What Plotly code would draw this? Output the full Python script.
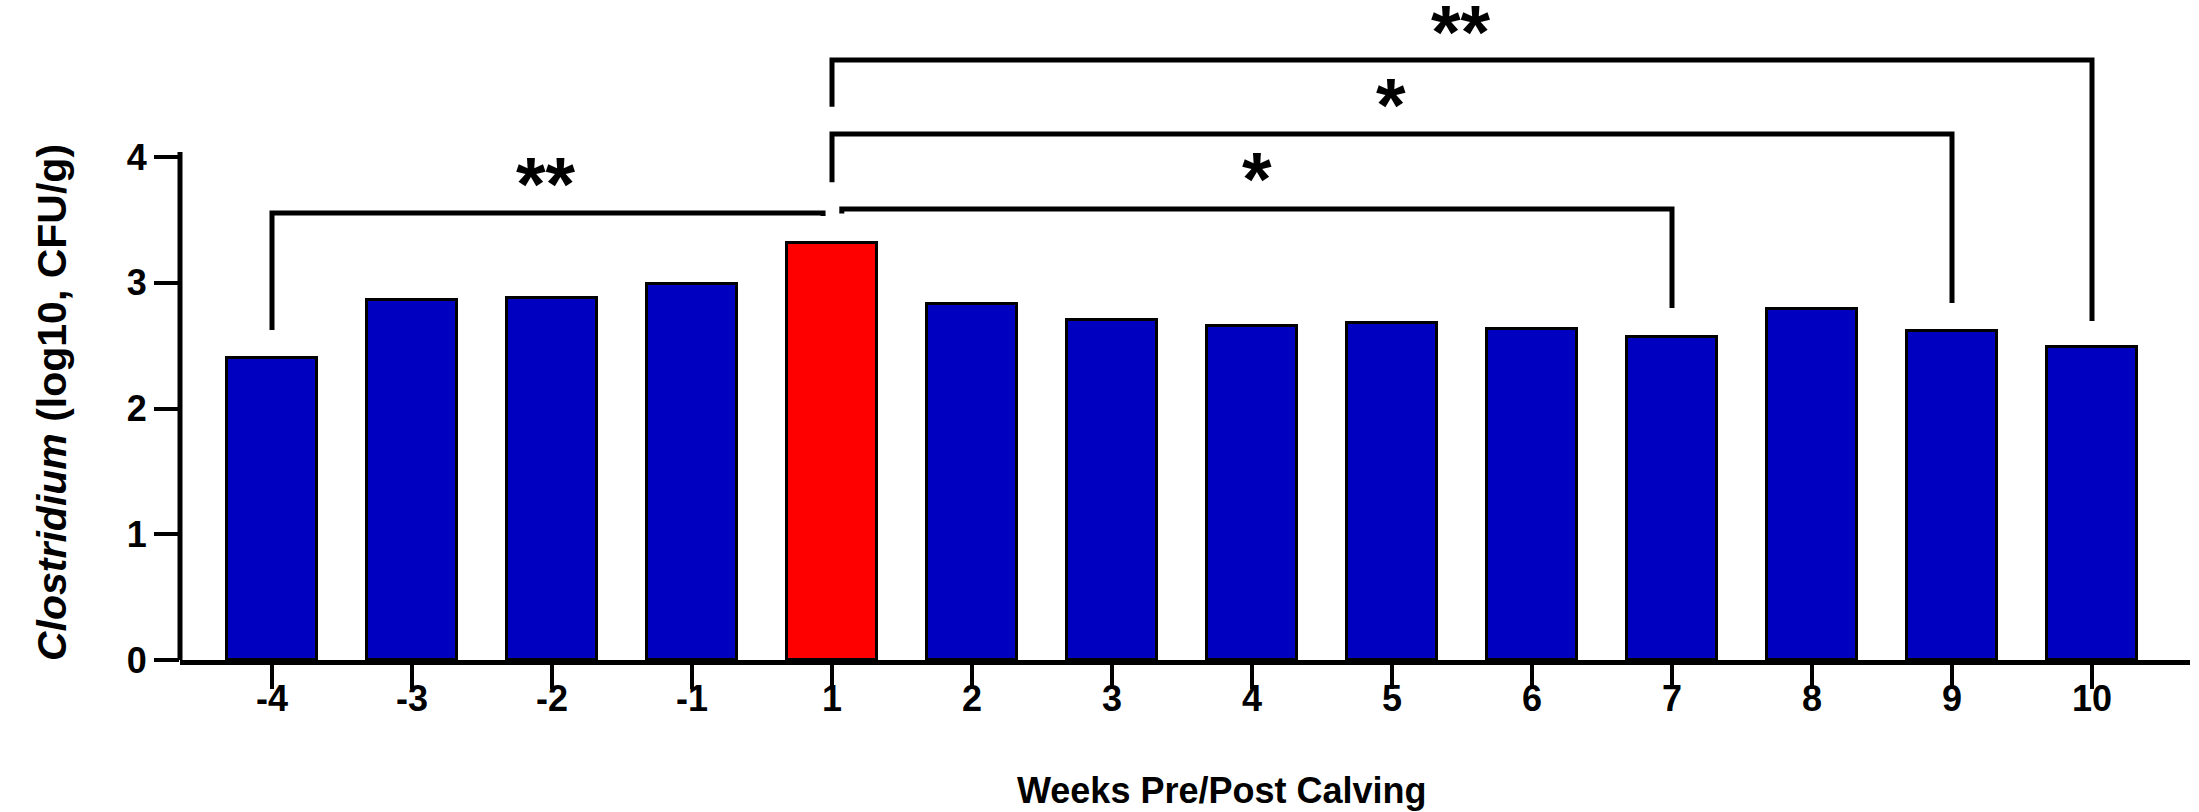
import plotly.graph_objects as go

# Weekly Clostridium counts around calving
weeks = ["-4", "-3", "-2", "-1", "1", "2", "3", "4", "5", "6", "7", "8", "9", "10"]
clostridium = [2.40, 2.86, 2.88, 2.99, 3.32, 2.83, 2.70, 2.66, 2.68, 2.63, 2.57, 2.79, 2.62, 2.49]
highlight_week = "1"

# pairwise comparisons against week 1 and their significance marks
comparisons = [("-4", "1", "**"), ("1", "7", "*"), ("1", "9", "*"), ("1", "10", "**")]

BLUE = "#0000C0"
RED = "#FF0000"
FONT = "Liberation Sans, Arial, sans-serif"

W, H = 2199, 812
ML, MR, MT, MB = 180, 9, 20, 152
PX_PER_UNIT = 125.75          # vertical pixels per log10 unit
PX_PER_CAT = 140.0            # horizontal pixels per week slot
FIRST_CENTER = 272            # pixel x of first week slot

plot_w = W - ML - MR
plot_h = H - MT - MB
y_max = plot_h / PX_PER_UNIT
x_lo = (ML - FIRST_CENTER) / PX_PER_CAT
x_hi = x_lo + plot_w / PX_PER_CAT

idx = {w: i for i, w in enumerate(weeks)}
xs = list(range(len(weeks)))
colors = [RED if w == highlight_week else BLUE for w in weeks]

fig = go.Figure()
fig.add_trace(go.Bar(
    x=xs, y=clostridium, width=0.64,
    marker=dict(color=colors, line=dict(color="black", width=3)),
    hoverinfo="skip", showlegend=False,
))

# bracket geometry: horizontal level, leg bottoms and end offsets (data units)
bracket_style = {
    ("-4", "1"): dict(level=3.555, left_bottom=2.624, right_bottom=3.53, dx0=0.0, dx1=-0.064),
    ("1", "7"): dict(level=3.586, left_bottom=3.55, right_bottom=2.80, dx0=0.07, dx1=0.0),
    ("1", "9"): dict(level=4.183, left_bottom=3.80, right_bottom=2.839, dx0=0.0, dx1=0.0),
    ("1", "10"): dict(level=4.771, left_bottom=4.40, right_bottom=2.696, dx0=0.0, dx1=0.0),
}
# mark positions (x in week slots, y in data units of the glyph centre)
mark_pos = {
    ("-4", "1"): (1.957, 3.857),
    ("1", "7"): (7.036, 3.897),
    ("1", "9"): (7.99, 4.493),
    ("1", "10"): (8.49, 5.066),
}

shapes = []
annotations = []
for a, b, label in comparisons:
    st = bracket_style[(a, b)]
    x0 = idx[a] + st["dx0"]
    x1 = idx[b] + st["dx1"]
    path = (f"M {x0},{st['left_bottom']} L {x0},{st['level']} "
            f"L {x1},{st['level']} L {x1},{st['right_bottom']}")
    shapes.append(dict(type="path", xref="x", yref="y", path=path,
                       line=dict(color="black", width=5)))
    mx, my = mark_pos[(a, b)]
    annotations.append(dict(x=mx, y=my, xref="x", yref="y", text=label,
                            showarrow=False, xanchor="center", yanchor="middle", yshift=-9,
                            font=dict(family=FONT, size=76, color="black", weight="bold")))

# left axis line stops just above the top tick
shapes.append(dict(type="line", xref="paper", yref="paper",
                   x0=0, x1=0, y0=0, y1=4.04 / y_max,
                   line=dict(color="black", width=5)))


def px_to_paper_x(px):
    return (px - ML) / plot_w


def px_to_paper_y(py):
    return (H - MB - py) / plot_h


annotations.append(dict(
    x=px_to_paper_x(1222), y=px_to_paper_y(790), xref="paper", yref="paper",
    xanchor="center", yanchor="middle",
    text="Weeks Pre/Post Calving", showarrow=False,
    font=dict(family=FONT, size=36, color="black", weight="bold")))
annotations.append(dict(
    x=px_to_paper_x(52), y=px_to_paper_y(403), xref="paper", yref="paper",
    xanchor="center", yanchor="middle",
    text="<i>Clostridium</i> (log10, CFU/g)", showarrow=False, textangle=-90,
    font=dict(family=FONT, size=41, color="black", weight="bold")))

fig.update_layout(
    width=W, height=H,
    margin=dict(l=ML, r=MR, t=MT, b=MB, pad=0),
    paper_bgcolor="white", plot_bgcolor="white",
    shapes=shapes, annotations=annotations,
    bargap=0,
    xaxis=dict(
        range=[x_lo, x_hi], tickmode="array", tickvals=xs, ticktext=weeks,
        showline=True, linecolor="black", linewidth=5,
        ticks="outside", ticklen=24, tickwidth=4, tickcolor="black",
        ticklabelstandoff=-21,
        showgrid=False, zeroline=False,
        tickfont=dict(family=FONT, size=36, color="black", weight="bold"),
    ),
    yaxis=dict(
        range=[0, y_max], tickmode="array", tickvals=[0, 1, 2, 3, 4],
        showline=False, ticks="outside", ticklen=25, tickwidth=4, tickcolor="black",
        showgrid=False, zeroline=False,
        tickfont=dict(family=FONT, size=36, color="black", weight="bold"),
    ),
)

fig.write_html("out.html")
